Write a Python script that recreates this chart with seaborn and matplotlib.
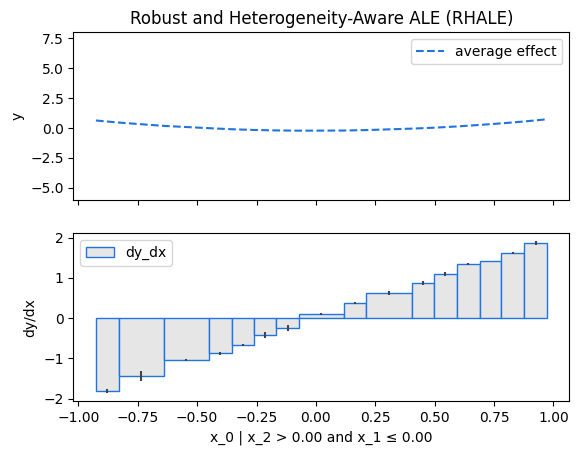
import numpy as np
import pandas as pd
import matplotlib
matplotlib.use("Agg")
import matplotlib.pyplot as plt
import seaborn as sns

# --- DATA ---
bin_edges = [-0.926, -0.831, -0.641, -0.452, -0.355, -0.262, -0.166, -0.072,
             0.117, 0.213, 0.403, 0.499, 0.592, 0.689, 0.781, 0.878, 0.972]
bin_effect = [-1.816, -1.443, -1.037, -0.871, -0.672, -0.423, -0.249, 0.10,
              0.373, 0.622, 0.871, 1.094, 1.343, 1.418, 1.617, 1.866]
bin_std_err = [0.05, 0.12, 0.02, 0.04, 0.02, 0.07, 0.07, 0.03,
               0.03, 0.04, 0.04, 0.04, 0.02, 0.01, 0.02, 0.05]
# average effect (ALE) at the bin edges
ale_values = [0.63, 0.46, 0.18, -0.01, -0.10, -0.16, -0.20, -0.22, -0.21,
              -0.17, -0.05, 0.03, 0.13, 0.26, 0.39, 0.55, 0.73]

BLUE = "#1f74e0"


def plot_rhale():
    df_ale = pd.DataFrame({"x": bin_edges, "y": ale_values})
    edges = np.array(bin_edges)
    widths = np.diff(edges)
    centers = edges[:-1] + widths / 2

    fig, (ax1, ax2) = plt.subplots(2, 1, sharex=True, figsize=(5.78, 4.55))
    fig.subplots_adjust(left=0.127, right=0.985, top=0.929, bottom=0.119, hspace=0.2)

    # top: average effect
    sns.lineplot(data=df_ale, x="x", y="y", ax=ax1, color=BLUE,
                 linestyle="--", label="average effect")
    ax1.set_ylim(-6, 8)
    ax1.set_ylabel("y")
    ax1.set_xlabel("")
    ax1.set_title("Robust and Heterogeneity-Aware ALE (RHALE)")
    ax1.legend(loc="upper right")

    # bottom: bin effects with error bars
    ax2.bar(edges[:-1], bin_effect, width=widths, align="edge",
            color=(0.9, 0.9, 0.9), edgecolor=BLUE, linewidth=1, label="dy_dx")
    ax2.errorbar(centers, bin_effect, yerr=bin_std_err, fmt="none",
                 ecolor="#444444", elinewidth=1.5)
    ax2.set_ylabel("dy/dx")
    ax2.set_xlabel("x_0 | x_2 > 0.00 and x_1 \u2264 0.00")
    ax2.legend(loc="upper left")

    fig.savefig("out.png", dpi=100)


if __name__ == "__main__":
    plot_rhale()
